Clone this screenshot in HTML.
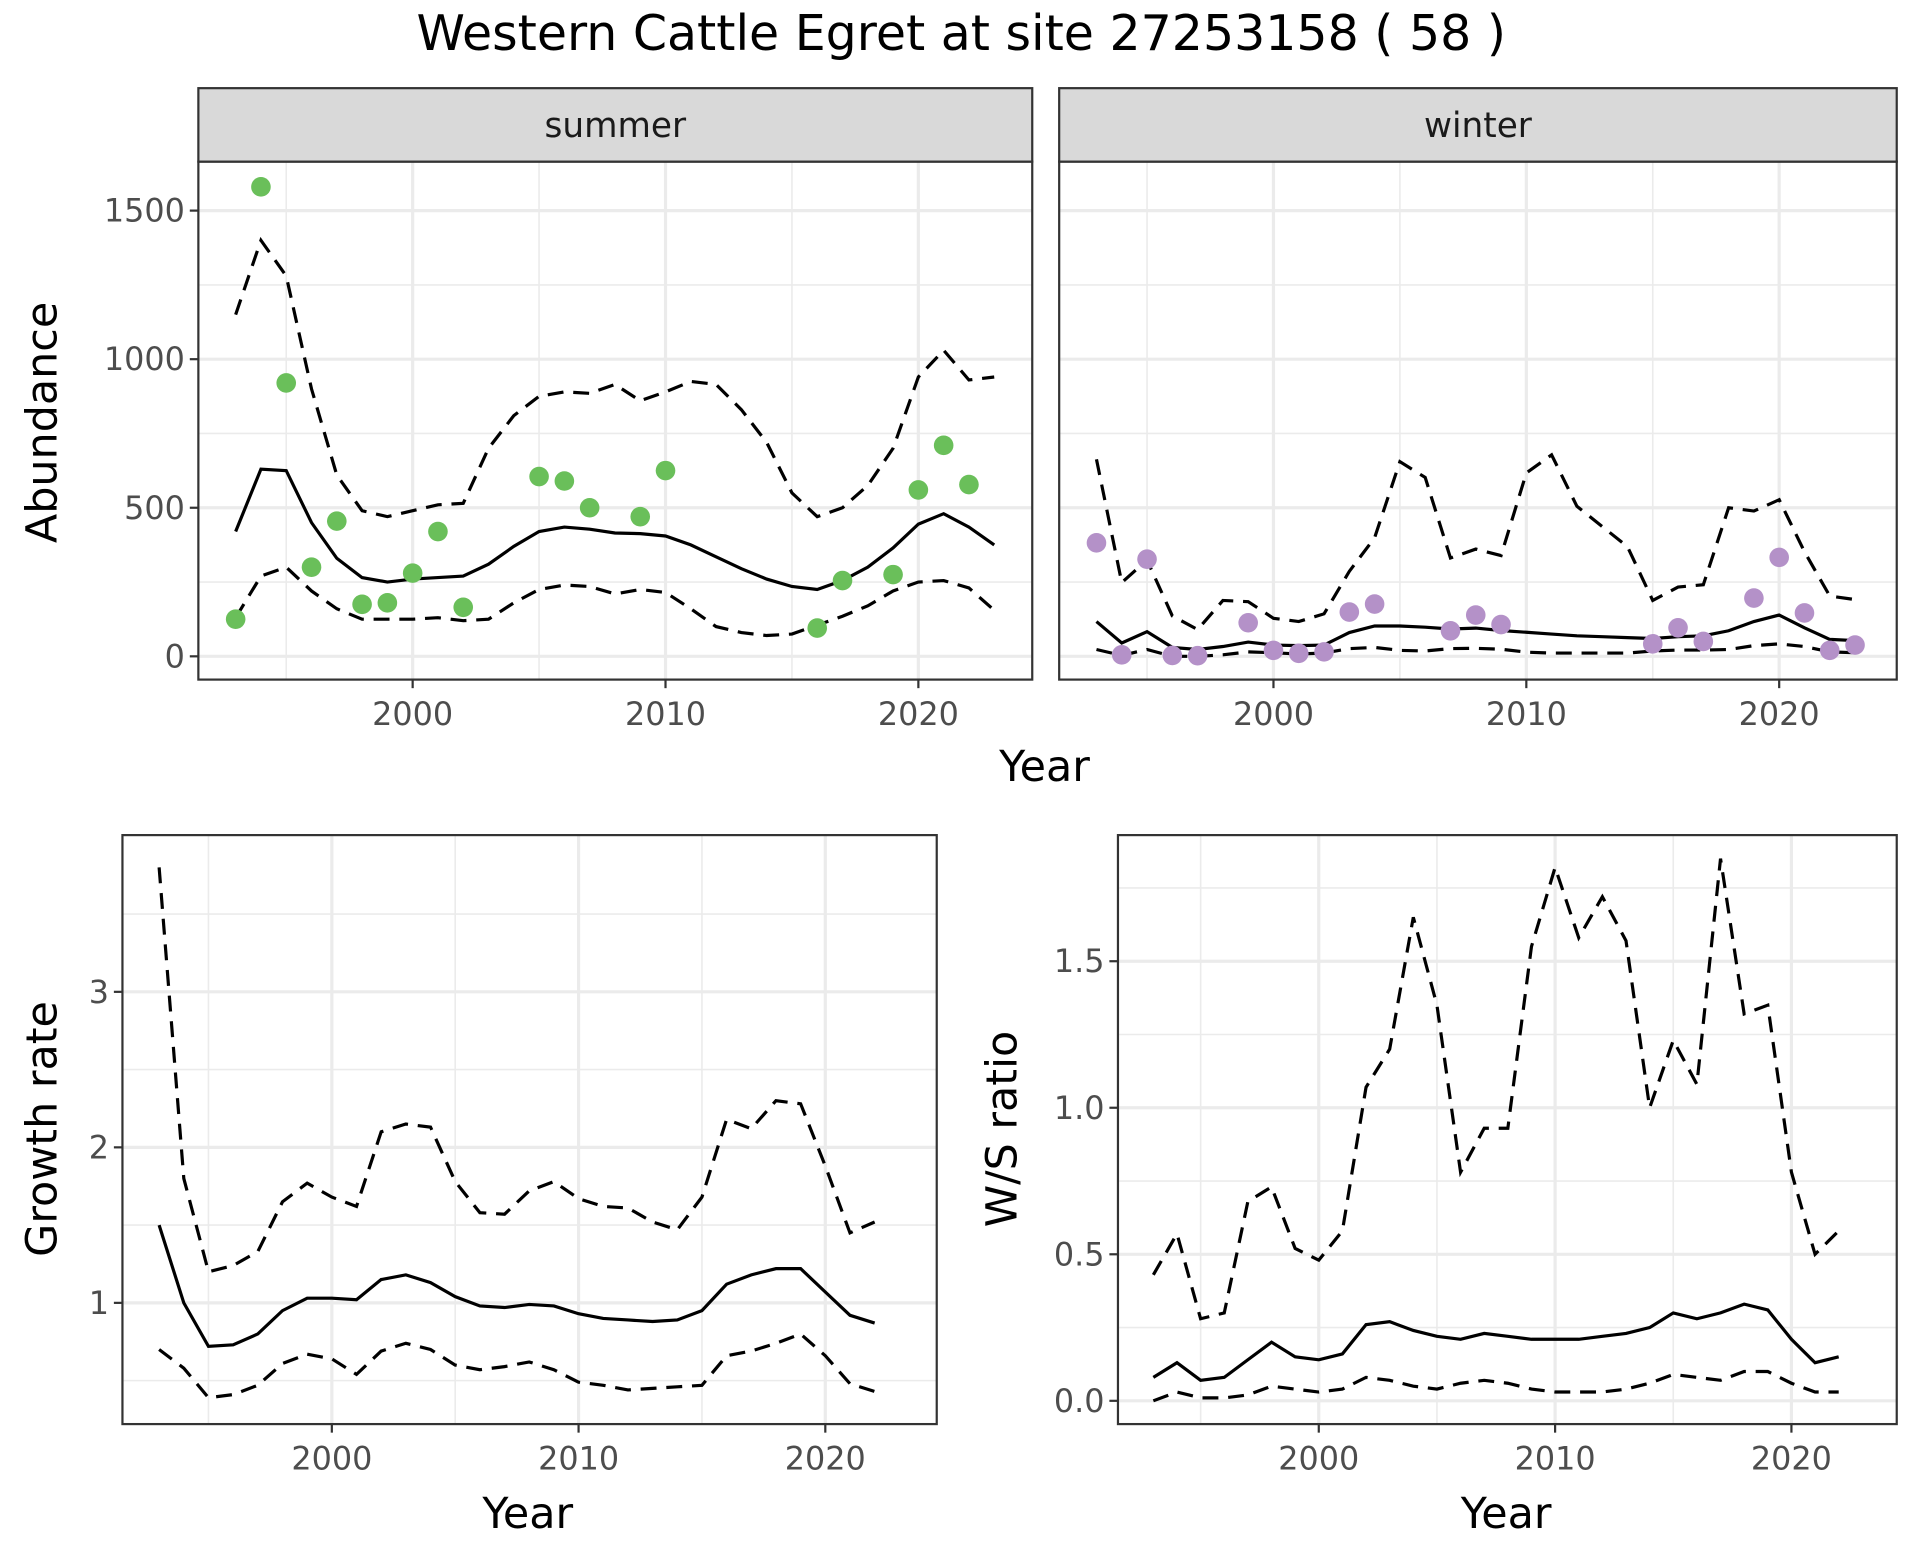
<!DOCTYPE html>
<html><head><meta charset="utf-8"><style>
html,body{margin:0;padding:0;background:#fff;}
svg{display:block;font-family:"DejaVu Sans","Liberation Sans",sans-serif;}
</style></head><body>
<svg id="chart" width="1920" height="1560" viewBox="0 0 1568 1274" preserveAspectRatio="none" xmlns="http://www.w3.org/2000/svg">
<text x="785" y="41" font-size="40" text-anchor="middle" fill="#000">Western Cattle Egret at site 27253158 ( 58 )</text>
</svg>
<script>
const yearsA=[1993,1994,1995,1996,1997,1998,1999,2000,2001,2002,2003,2004,2005,2006,2007,2008,2009,2010,2011,2012,2013,2014,2015,2016,2017,2018,2019,2020,2021,2022,2023];
const summerMean=[420,630,625,450,330,265,250,260,265,270,310,370,420,435,428,415,413,405,375,335,295,260,235,225,255,300,365,445,480,435,375];
const summerUpper=[1150,1400,1280,900,610,490,470,490,510,515,700,810,875,890,885,915,860,890,925,915,830,720,550,470,500,575,700,940,1030,930,940];
const summerLower=[130,270,300,220,160,125,125,125,130,120,125,180,225,240,235,210,225,215,160,100,80,70,75,105,135,170,220,250,255,230,155];
const summerObsYears=[1993,1994,1995,1996,1997,1998,1999,2000,2001,2002,2005,2006,2007,2009,2010,2016,2017,2019,2020,2021,2022];
const summerObs=[125,1580,920,300,455,175,180,280,420,165,605,590,500,470,625,95,255,275,560,710,578];
const winterMean=[117,45,83,30,23,33,48,38,36,38,80,102,102,98,92,95,87,81,75,69,66,63,60,66,69,86,117,139,96,57,53];
const winterUpper=[663,248,324,136,90,188,184,128,117,143,286,399,655,602,331,361,339,617,678,505,437,369,188,233,241,500,489,527,352,203,191];
const winterLower=[23,3,23,0,0,5,15,12,8,11,26,30,20,18,26,27,24,14,11,11,11,11,18,21,21,23,36,42,33,15,12];
const winterObsYears=[1993,1994,1995,1996,1997,1999,2000,2001,2002,2003,2004,2007,2008,2009,2015,2016,2017,2019,2020,2021,2022,2023];
const winterObs=[382,5,327,3,2,113,20,10,15,149,176,86,139,107,42,96,50,196,333,146,20,38];
const yearsB=[1993,1994,1995,1996,1997,1998,1999,2000,2001,2002,2003,2004,2005,2006,2007,2008,2009,2010,2011,2012,2013,2014,2015,2016,2017,2018,2019,2020,2021,2022];
const growthMean=[1.5,1.0,0.72,0.73,0.8,0.95,1.03,1.03,1.02,1.15,1.18,1.13,1.04,0.98,0.97,0.99,0.98,0.93,0.9,0.89,0.88,0.89,0.95,1.12,1.18,1.22,1.22,1.07,0.92,0.87];
const growthUpper=[3.8,1.8,1.2,1.24,1.33,1.65,1.77,1.68,1.62,2.1,2.15,2.13,1.78,1.58,1.57,1.72,1.78,1.67,1.62,1.61,1.52,1.47,1.68,2.18,2.12,2.3,2.28,1.88,1.45,1.52];
const growthLower=[0.7,0.58,0.39,0.41,0.47,0.61,0.67,0.64,0.54,0.69,0.74,0.7,0.6,0.57,0.59,0.62,0.57,0.49,0.47,0.44,0.45,0.46,0.47,0.66,0.69,0.74,0.8,0.66,0.48,0.43];
const ratioMean=[0.08,0.13,0.07,0.08,0.14,0.2,0.15,0.14,0.16,0.26,0.27,0.24,0.22,0.21,0.23,0.22,0.21,0.21,0.21,0.22,0.23,0.25,0.3,0.28,0.3,0.33,0.31,0.21,0.13,0.15];
const ratioUpper=[0.43,0.57,0.28,0.3,0.68,0.73,0.52,0.48,0.58,1.07,1.2,1.65,1.35,0.78,0.93,0.93,1.55,1.82,1.58,1.72,1.57,1.0,1.23,1.08,1.85,1.32,1.35,0.78,0.5,0.58];
const ratioLower=[0.0,0.03,0.01,0.01,0.02,0.05,0.04,0.03,0.04,0.08,0.07,0.05,0.04,0.06,0.07,0.06,0.04,0.03,0.03,0.03,0.04,0.06,0.09,0.08,0.07,0.1,0.1,0.06,0.03,0.03];
const xTicks=[2000,2010,2020];
const xMinor=[1995,2005,2015];
const abTicks=[0,500,1000,1500];
const abMinor=[250,750,1250];
const grTicks=[1,2,3];
const grMinor=[0.5,1.5,2.5,3.5];
const wsTicks=[0,0.5,1,1.5];
const wsLabels=["0.0","0.5","1.0","1.5"];
const wsMinor=[0.25,0.75,1.25,1.75];

const NS="http://www.w3.org/2000/svg";
const svg=document.getElementById('chart');
function mk(tag,attrs,parent){const e=document.createElementNS(NS,tag);for(const k in attrs)e.setAttribute(k,attrs[k]);(parent||svg).appendChild(e);return e;}
function lin(d0,d1,r0,r1){return v=>r0+(v-d0)*(r1-r0)/(d1-d0);}

function panel(name,x0,x1,y0,y1,sx,sy,opt){
  const g=mk('g',{});
  
  
  mk('rect',{x:x0,y:y0,width:x1-x0,height:y1-y0,fill:'#fff'},g);
  opt.yMinor.forEach(v=>{const y=sy(v);if(y>y0&&y<y1){const l=mk('line',{x1:x0,x2:x1,y1:y,y2:y,stroke:'#ebebeb','stroke-width':1.3},g);}});
  xMinor.forEach(v=>{const x=sx(v);const l=mk('line',{x1:x,x2:x,y1:y0,y2:y1,stroke:'#ebebeb','stroke-width':1.3},g);});
  opt.yTicks.forEach(v=>{const y=sy(v);const l=mk('line',{x1:x0,x2:x1,y1:y,y2:y,stroke:'#ebebeb','stroke-width':2.6},g);});
  xTicks.forEach(v=>{const x=sx(v);const l=mk('line',{x1:x,x2:x,y1:y0,y2:y1,stroke:'#ebebeb','stroke-width':2.6},g);});
  opt.series.forEach(s=>{
    const pts=s.y.map((v,i)=>sx(s.x[i]).toFixed(2)+','+sy(v).toFixed(2)).join(' ');
    const p=mk('polyline',{points:pts,fill:'none',stroke:'#000','stroke-width':2.6,'stroke-dasharray':s.dash?'13,8':'none'},g);
    
    
  });
  if(opt.points){
    opt.points.y.forEach((v,i)=>{
      const c=mk('circle',{cx:sx(opt.points.x[i]),cy:sy(v),r:8,fill:opt.points.color},g);
      
      
    });
  }
  mk('rect',{x:x0,y:y0,width:x1-x0,height:y1-y0,fill:'none',stroke:'#333','stroke-width':1.8},g);
  xTicks.forEach(v=>{const x=sx(v);
    mk('line',{x1:x,x2:x,y1:y1,y2:y1+7,stroke:'#333','stroke-width':1.8},g);
    const t=mk('text',{x:x,y:y1+37,'font-size':26,fill:'#4d4d4d','text-anchor':'middle'},g);t.textContent=v;
    });
  if(opt.yLabels){opt.yTicks.forEach((v,i)=>{const y=sy(v);
    mk('line',{x1:x0-7,x2:x0,y1:y,y2:y,stroke:'#333','stroke-width':1.8},g);
    const t=mk('text',{x:x0-11,y:y+9,'font-size':26,fill:'#4d4d4d','text-anchor':'end'},g);t.textContent=opt.yLabels[i];
    });}
  return g;
}
function strip(name,label,x0,x1){
  const r=mk('rect',{x:x0,y:72,width:x1-x0,height:60,fill:'#d9d9d9',stroke:'#333','stroke-width':1.8});
  
  const t=mk('text',{x:(x0+x1)/2,y:112,'font-size':28,fill:'#1a1a1a','text-anchor':'middle'});t.textContent=label;
  
}
function title(name,txt,x,y,rot){
  const t=mk('text',{x:x,y:y,'font-size':35,fill:'#000','text-anchor':'middle',transform:rot?`rotate(-90 ${x} ${y})`:''});
  t.textContent=txt;
}

const sxS=lin(2000,2020,337,750), syA=lin(0,1500,536,172);
panel('summer-panel',162,843,132,555,sxS,syA,{yTicks:abTicks,yMinor:abMinor,yLabels:abTicks.map(String),
  series:[{x:yearsA,y:summerUpper,dash:1,name:'summer-upper-ci'},{x:yearsA,y:summerLower,dash:1,name:'summer-lower-ci'},{x:yearsA,y:summerMean,name:'summer-mean-line'}],
  points:{x:summerObsYears,y:summerObs,color:'#6abf5a'}});
strip('summer-strip','summer',162,843);
const sxW=lin(2000,2020,1040,1453);
panel('winter-panel',865,1549,132,555,sxW,syA,{yTicks:abTicks,yMinor:abMinor,yLabels:null,
  series:[{x:yearsA,y:winterUpper,dash:1,name:'winter-upper-ci'},{x:yearsA,y:winterLower,dash:1,name:'winter-lower-ci'},{x:yearsA,y:winterMean,name:'winter-mean-line'}],
  points:{x:winterObsYears,y:winterObs,color:'#b491c8'}});
strip('winter-strip','winter',865,1549);
title('x-axis-title-top','Year',853,638,false);
title('y-axis-title-abundance','Abundance',46,345,true);

const sxG=lin(2000,2020,271,674), syG=lin(1,3,1064,810);
panel('growth-panel',100,765,682,1163,sxG,syG,{yTicks:grTicks,yMinor:grMinor,yLabels:grTicks.map(String),
  series:[{x:yearsB,y:growthUpper,dash:1,name:'growth-upper-ci'},{x:yearsB,y:growthLower,dash:1,name:'growth-lower-ci'},{x:yearsB,y:growthMean,name:'growth-mean-line'}]});
title('x-axis-title-growth','Year',431,1248,false);
title('y-axis-title-growth','Growth rate',46,922,true);

const sxR=lin(2000,2020,1077,1463), syR=lin(0,1.5,1144,785);
panel('ratio-panel',913,1549,682,1163,sxR,syR,{yTicks:wsTicks,yMinor:wsMinor,yLabels:wsLabels,
  series:[{x:yearsB,y:ratioUpper,dash:1,name:'ratio-upper-ci'},{x:yearsB,y:ratioLower,dash:1,name:'ratio-lower-ci'},{x:yearsB,y:ratioMean,name:'ratio-mean-line'}]});
title('x-axis-title-ratio','Year',1230,1248,false);
title('y-axis-title-ratio','W/S ratio',830,922,true);
</script>
</body></html>
